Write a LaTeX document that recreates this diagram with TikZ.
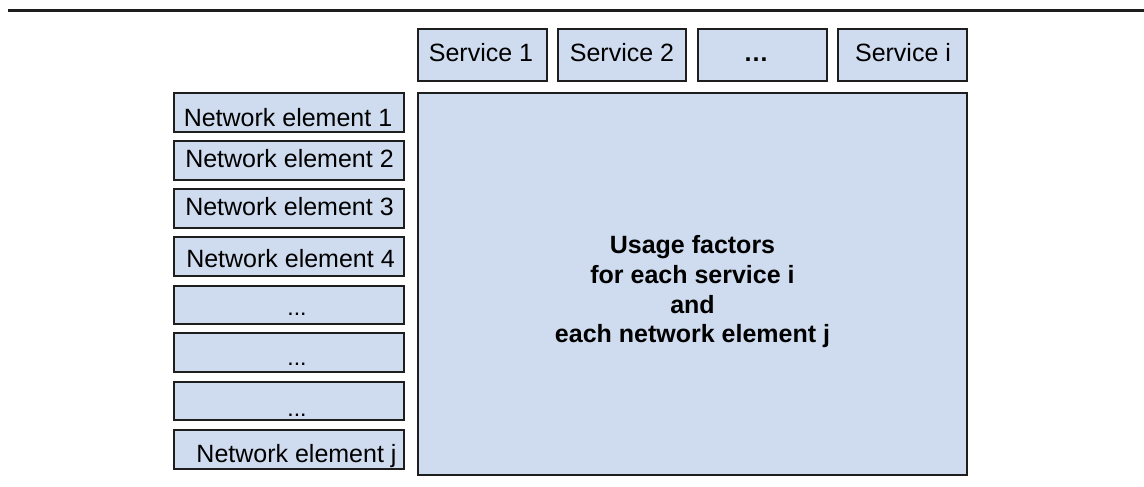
\documentclass[tikz,border=0pt]{standalone}
\usepackage{fontspec}
\setmainfont{Liberation Sans}
\definecolor{boxfill}{RGB}{207,219,238}
\definecolor{boxline}{RGB}{30,30,30}
\begin{document}
\begin{tikzpicture}[x=1pt,y=-1pt,
  cell/.style={draw=boxline,fill=boxfill,line width=1.7pt,inner sep=0pt,rectangle},
  lbl/.style={inner sep=0pt,anchor=base,font=\fontsize{25}{30}\selectfont},
  dlbl/.style={inner sep=0pt,anchor=base,font=\fontsize{23}{28}\selectfont},
  blbl/.style={inner sep=0pt,anchor=base,font=\fontsize{25}{30}\selectfont\bfseries}]
\useasboundingbox (0,0) rectangle (1144,487);
\fill[white] (0,0) rectangle (1144,487);
% top rule
\coordinate (rl) at (8,10.5);
\coordinate (rr) at (1144,10.5);
\draw[line width=2.6pt,boxline] (rl) -- (rr);
% services
\node[cell,minimum width=129,minimum height=52] (s1) at (482.5,55) {};
\node[cell,minimum width=128,minimum height=52] (s2) at (622,55) {};
\node[cell,minimum width=129,minimum height=52] (s3) at (762.5,55) {};
\node[cell,minimum width=129,minimum height=52] (s4) at (902.5,55) {};
\node[lbl] (ts1) at (481,62) {Service 1};
\node[lbl] (ts2) at (622,62) {Service 2};
\node[blbl] (ts3) at (756,62) {\ldots};
\node[lbl] (ts4) at (903,62) {Service i};
% big matrix
\node[cell,minimum width=549,minimum height=382] (big) at (692.5,284) {};
\node[blbl] (u1) at (692.5,253) {Usage factors};
\node[blbl] (u2) at (692.5,283) {for each service i};
\node[blbl] (u3) at (692.5,313) {and};
\node[blbl] (u4) at (692.5,342) {each network element j};
% network elements
\node[cell,minimum width=230,minimum height=39] (n1) at (289,112.5) {};
\node[cell,minimum width=230,minimum height=39] (n2) at (289,160.5) {};
\node[cell,minimum width=230,minimum height=39] (n3) at (289,208.5) {};
\node[cell,minimum width=230,minimum height=39] (n4) at (289,256.5) {};
\node[cell,minimum width=230,minimum height=38] (n5) at (289,305) {};
\node[cell,minimum width=230,minimum height=39] (n6) at (289,352.5) {};
\node[cell,minimum width=230,minimum height=38] (n7) at (289,401) {};
\node[cell,minimum width=230,minimum height=39] (n8) at (289,449.5) {};
\node[lbl] (tn1) at (288,126) {Network element 1};
\node[lbl] (tn2) at (289.5,167) {Network element 2};
\node[lbl] (tn3) at (289.5,215) {Network element 3};
\node[lbl] (tn4) at (290.5,267) {Network element 4};
\node[dlbl] (tn5) at (297,315) {...};
\node[dlbl] (tn6) at (297,365) {...};
\node[dlbl] (tn7) at (297,416) {...};
\node[lbl] (tn8) at (296.5,462) {Network element j};
\end{tikzpicture}
\end{document}
